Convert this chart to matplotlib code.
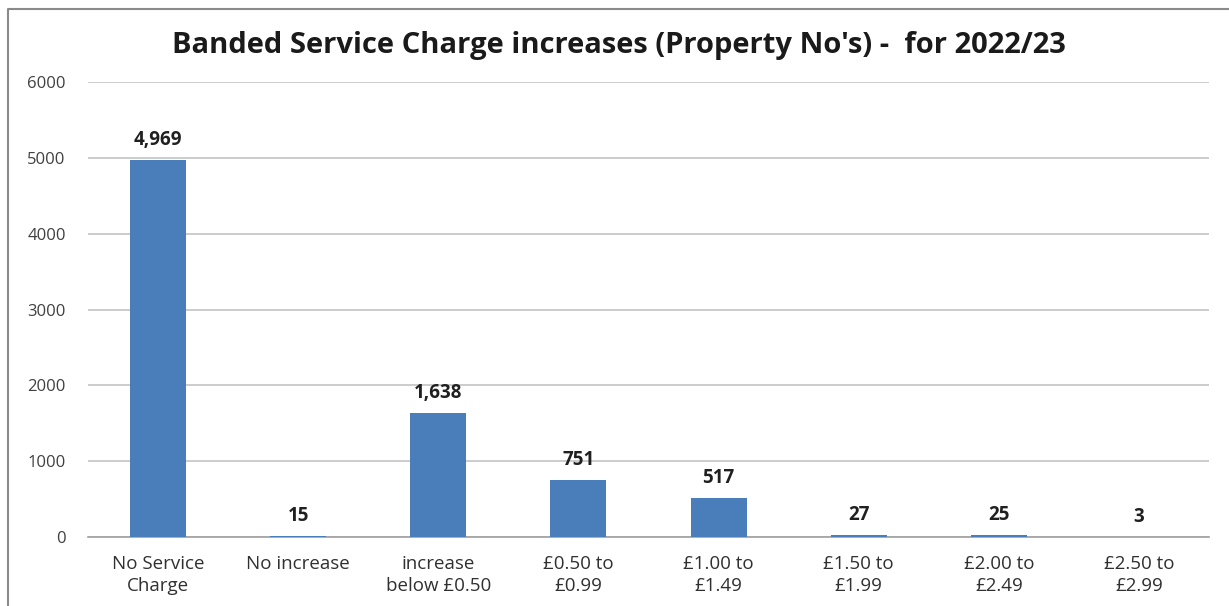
import matplotlib
matplotlib.use("Agg")
import matplotlib.pyplot as plt
from matplotlib.lines import Line2D

plt.rcParams['font.family'] = ['Open Sans', 'DejaVu Sans']

categories = ["No Service\nCharge", "No increase", "increase\nbelow £0.50",
              "£0.50 to\n£0.99", "£1.00 to\n£1.49", "£1.50 to\n£1.99",
              "£2.00 to\n£2.49", "£2.50 to\n£2.99"]
properties = [4969, 15, 1638, 751, 517, 27, 25, 3]
y_ticks = [0, 1000, 2000, 3000, 4000, 5000, 6000]

W, H = 1229, 606
fig = plt.figure(figsize=(W / 100, H / 100), dpi=100)
ax = fig.add_axes([88 / W, 1 - 537 / H, (1209 - 88) / W, (537 - 82) / H])

x = range(len(categories))
bars = ax.bar(x, properties, width=0.4, color="#4A7EBB", zorder=3)

ax.set_xlim(-0.5, len(categories) - 0.5)
ax.set_ylim(0, 6000)
ax.set_yticks(y_ticks)
ax.set_yticklabels([str(v) for v in y_ticks], fontsize=12, color="#404040")
ax.set_xticks(list(x))
ax.set_xticklabels(categories, fontsize=13.5, color="#303030", linespacing=1.3)
ax.tick_params(axis="x", length=0, pad=13)
ax.tick_params(axis="y", length=0, pad=16)

ax.grid(axis="y", color="#c4c4c4", linewidth=1.2, zorder=0)
for side in ("top", "right", "left"):
    ax.spines[side].set_visible(False)
ax.spines["bottom"].set_color("#a0a0a0")
ax.spines["bottom"].set_linewidth(1.2)

for rect, v in zip(bars, properties):
    ax.annotate(f"{v:,}", (rect.get_x() + rect.get_width() / 2, v),
                xytext=(0, 7), textcoords="offset points",
                ha="center", va="bottom", fontsize=13.5, fontweight="bold",
                color="#202020")

fig.text(619 / W, 1 - 45 / H,
         "Banded Service Charge increases (Property No's) -  for 2022/23",
         ha="center", va="center", fontsize=21, fontweight="bold",
         color="#1a1a1a")

# outer chart frame
fig.add_artist(Line2D([8 / W, 8 / W, 1.0], [0.0, 1 - 9 / H, 1 - 9 / H],
                      transform=fig.transFigure, color="#8a8a8a",
                      linewidth=1.5))

fig.savefig("out.png", dpi=100)
